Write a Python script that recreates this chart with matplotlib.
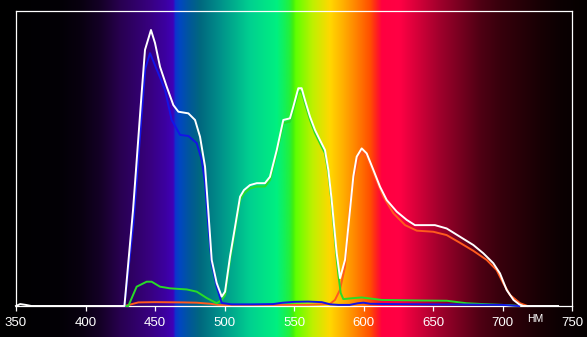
import numpy as np
import matplotlib
matplotlib.use("Agg")
import matplotlib.pyplot as plt
from matplotlib.colors import LinearSegmentedColormap

# ---------------- data (wavelength nm, relative intensity) ----------------
white_nm = [350, 353, 357, 361, 428, 434.2, 440.4, 442.8, 447.1, 450, 453.6, 458.4, 463.2, 466.8,
            474, 478.8, 482.4, 486, 488.3, 490.8, 494.4, 498, 500.4, 504, 507.6, 511.2, 514, 518.3,
            523.2, 529.1, 532.7, 537.6, 542.3, 547.1, 549.5, 553.1, 555.5, 557.9, 561.5, 565.1,
            568.7, 572.3, 574.7, 577.1, 580.7, 583.1, 586.7, 592.7, 595.1, 598.7, 602.3, 607.1,
            611.9, 616.7, 623.9, 631.1, 637, 651.4, 659.8, 669.4, 679, 686.2, 693.4, 698.2, 703,
            707.9, 712, 715, 740]
white_val = [0, 0.007, 0.004, 0, 0, 0.348, 0.772, 0.928, 1.0, 0.953, 0.867, 0.795, 0.728, 0.704,
             0.698, 0.674, 0.613, 0.505, 0.348, 0.167, 0.083, 0.034, 0.052, 0.18, 0.287, 0.396, 0.42,
             0.438, 0.445, 0.445, 0.468, 0.565, 0.674, 0.680, 0.722, 0.789, 0.789, 0.746, 0.686,
             0.638, 0.601, 0.565, 0.493, 0.384, 0.192, 0.101, 0.167, 0.47, 0.541, 0.571, 0.553,
             0.493, 0.432, 0.384, 0.342, 0.312, 0.293, 0.293, 0.281, 0.251, 0.221, 0.191, 0.155,
             0.118, 0.058, 0.022, 0.006, 0, 0]

blue_nm = [428, 434.5, 440.5, 443, 446.4, 452.4, 457.2, 462, 468, 474, 480, 483.6, 486, 488.4,
           490.8, 494.4, 498, 505, 520, 535, 542, 550, 560, 570, 576, 582, 590, 596, 600, 605,
           620, 650, 680, 700, 712]
blue_val = [0, 0.30, 0.70, 0.86, 0.916, 0.843, 0.783, 0.674, 0.62, 0.616, 0.59, 0.529, 0.446,
            0.287, 0.155, 0.07, 0.011, 0.006, 0.006, 0.007, 0.012, 0.015, 0.016, 0.014, 0.006,
            0.004, 0.004, 0.01, 0.012, 0.008, 0.007, 0.006, 0.005, 0.004, 0]

green_nm = [428, 430.8, 436.8, 444, 447.6, 453.6, 460.8, 472.8, 480, 487.2, 494.4, 498, 500.4,
            504, 507.6, 511.2, 514, 518.3, 523.2, 529.1, 532.7, 537.6, 542.3, 547.1, 549.5, 553.1,
            555.5, 557.9, 561.5, 565.1, 568.7, 572.3, 574.7, 577.1, 580.7, 582, 583.6, 585.5,
            591.5, 598.7, 613, 640, 660, 674, 690, 705, 712]
green_val = [0, 0, 0.07, 0.088, 0.088, 0.07, 0.064, 0.06, 0.052, 0.029, 0.01, 0.022, 0.040,
             0.168, 0.275, 0.384, 0.408, 0.426, 0.433, 0.433, 0.456, 0.553, 0.662, 0.668, 0.710,
             0.777, 0.777, 0.734, 0.674, 0.626, 0.589, 0.553, 0.481, 0.372, 0.17, 0.11, 0.047,
             0.025, 0.028, 0.031, 0.022, 0.02, 0.019, 0.01, 0.006, 0.003, 0]

red_nm = [428, 432, 438, 450, 470, 480, 490, 497, 520, 560, 576, 579.5, 583, 586.7, 590.3, 592.7,
          596.3, 598.7, 602.3, 608.3, 614.3, 621.5, 629.9, 638.3, 650.2, 659.8, 669.4, 679, 688.6,
          695.8, 700.6, 705.4, 712.6, 718]
red_val = [0, 0.005, 0.013, 0.014, 0.013, 0.012, 0.008, 0.003, 0.003, 0.004, 0.008, 0.022, 0.058,
           0.142, 0.36, 0.456, 0.535, 0.559, 0.541, 0.468, 0.396, 0.336, 0.293, 0.273, 0.269,
           0.257, 0.229, 0.2, 0.167, 0.13, 0.082, 0.04, 0.01, 0]

x_ticks = [350, 400, 450, 500, 550, 600, 650, 700, 750]
unit_label = "НМ"

# background spectrum colour stops (nm, colour)
spec_nm = [338.5, 381.7, 396.0, 410.4, 417.6, 424.8, 435.6, 446.4, 457.2, 463.0, 464.4, 468.0,
           475.2, 482.4, 496.8, 518.3, 537.8, 546.4, 549.3, 551.4, 563.7, 575.9, 585.3, 595.3,
           604.7, 609.7, 613.3, 626.3, 640.6, 655.0, 669.4, 683.8, 698.2, 712.6, 727.0, 741.4, 760.8]
spec_col = ["#000000", "#030006", "#08000f", "#140026", "#1e003a", "#280050", "#300068", "#380080",
            "#3c00a0", "#4000b8", "#1030d0", "#0048c0", "#005898", "#00687f", "#00908a", "#00d090",
            "#00f080", "#20f040", "#40f010", "#60ff00", "#c0f000", "#ffd800", "#ffb000", "#ff8000",
            "#ff5000", "#ff2020", "#ff0040", "#ff0044", "#d00038", "#a0002c", "#780020", "#500014",
            "#38000c", "#280008", "#180004", "#0c0002", "#050000"]

# ---------------- figure ----------------
W, H, DPI = 587, 337, 100
fig = plt.figure(figsize=(W / DPI, H / DPI), dpi=DPI)
fig.patch.set_facecolor("black")

L, R, B, T = 16 / W, 572 / W, 31 / H, 326 / H
XMIN, XMAX = 350, 750
bg_left = XMIN - L / (R - L) * (XMAX - XMIN)
bg_right = XMAX + (1 - R) / (R - L) * (XMAX - XMIN)

bg = fig.add_axes([0, 0, 1, 1])
bg.set_axis_off()
pos = [(n - bg_left) / (bg_right - bg_left) for n in spec_nm]
pos[0], pos[-1] = 0.0, 1.0
cmap = LinearSegmentedColormap.from_list("spec", list(zip(pos, spec_col)), N=1024)
grad = np.linspace(0, 1, 1500)[None, :]
bg.imshow(grad, extent=[bg_left, bg_right, 0, 1], aspect="auto", cmap=cmap,
          interpolation="bilinear")
bg.set_xlim(bg_left, bg_right)
bg.set_ylim(0, 1)

ax = fig.add_axes([L, B, R - L, T - B])
ax.patch.set_alpha(0)
ax.set_xlim(XMIN, XMAX)
ax.set_ylim(0, 295 / 276)

lw = 1.4
ax.plot(red_nm, red_val, color="#ff5a1e", lw=lw, zorder=2, clip_on=False)
ax.plot(green_nm, green_val, color="#28dc28", lw=lw, zorder=3, clip_on=False)
ax.plot(blue_nm, blue_val, color="#1414e6", lw=lw, zorder=4, clip_on=False)
ax.plot(white_nm, white_val, color="#ffffff", lw=lw, zorder=5, clip_on=False)

for s in ax.spines.values():
    s.set_color("white")
    s.set_linewidth(0.9)
ax.set_yticks([])
ax.set_xticks(x_ticks)
ax.set_xticklabels([str(t) for t in x_ticks])
ax.tick_params(axis="x", colors="white", length=3.5, width=0.9, pad=4.5,
               labelsize=9.5, labelcolor="white")
for lab in ax.get_xticklabels():
    lab.set_fontfamily("Liberation Sans")

fig.text(535 / W, 1 - 319 / H, unit_label, color="white", fontsize=7.5,
         family="Liberation Sans", ha="center", va="center")

fig.savefig("out.png", dpi=DPI, facecolor=fig.get_facecolor())
